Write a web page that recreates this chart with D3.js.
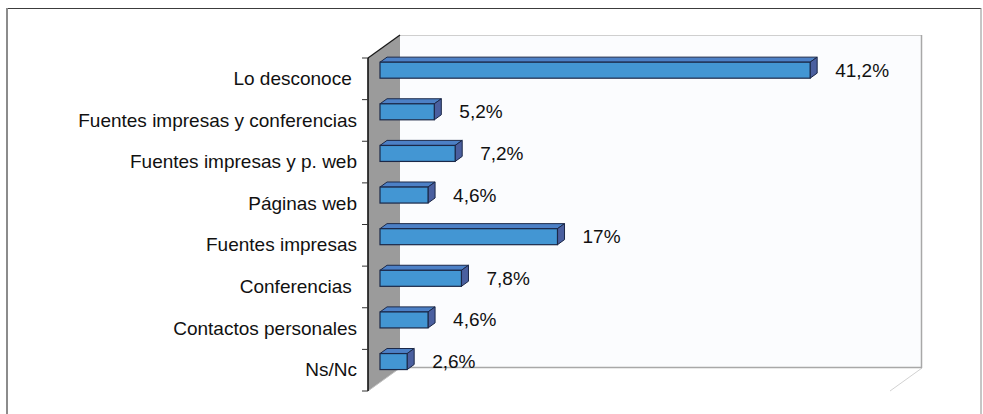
<!DOCTYPE html>
<html>
<head>
<meta charset="utf-8">
<script src="https://cdn.jsdelivr.net/npm/d3@7"></script>
<style>
  html, body { margin: 0; padding: 0; background: #ffffff; }
  svg { display: block; }
  text { font-family: "Liberation Sans", Arial, sans-serif; white-space: pre; }
</style>
</head>
<body>
<svg id="chart" width="983" height="414"></svg>
<script>
const categories = [
  "Lo desconoce ",
  "Fuentes impresas y conferencias",
  "Fuentes impresas y p. web",
  "Páginas web",
  "Fuentes impresas",
  "Conferencias ",
  "Contactos personales",
  "Ns/Nc"
];
const values = [41.2, 5.2, 7.2, 4.6, 17, 7.8, 4.6, 2.6];
const valueLabels = ["41,2%", "5,2%", "7,2%", "4,6%", "17%", "7,8%", "4,6%", "2,6%"];
const valueDomain = [0, 50];

const svg = d3.select("#chart");

// layout (front plane of the 3D box)
const plot = { left: 368, right: 890, top: 58, bottom: 391 };
const depth = { dx: 32, dy: -23 };          // full depth of the box
const barFront = 0.375, barBack = 0.595;     // bar position in depth (fraction)
const barH = 16;
const fontSize = "19px";

const x = d3.scaleLinear().domain(valueDomain).range([plot.left, plot.right]);
const y = d3.scaleBand().domain(categories).range([plot.top, plot.bottom]);

// outer frame
svg.append("line").attr("x1", 7).attr("x2", 981).attr("y1", 8.5).attr("y2", 8.5)
  .attr("stroke", "#3c3c3c").attr("stroke-width", 1.2);
svg.append("line").attr("x1", 7).attr("x2", 7).attr("y1", 8).attr("y2", 420)
  .attr("stroke", "#8c8c8c").attr("stroke-width", 2);
svg.append("line").attr("x1", 981).attr("x2", 981).attr("y1", 8).attr("y2", 420)
  .attr("stroke", "#8c8c8c").attr("stroke-width", 1);

const bx0 = plot.left + depth.dx, bx1 = plot.right + depth.dx;
const by0 = plot.top + depth.dy, by1 = plot.bottom + depth.dy;

// floor
svg.append("polygon")
  .attr("points", [[plot.left, plot.bottom], [bx0, by1], [bx1, by1], [plot.right, plot.bottom]].join(" "))
  .attr("fill", "#ffffff");
svg.append("line").attr("x1", bx1).attr("y1", by1).attr("x2", plot.right).attr("y2", plot.bottom)
  .attr("stroke", "#d2d2d2").attr("stroke-width", 1);

// back wall
svg.append("rect").attr("x", bx0).attr("y", by0).attr("width", bx1 - bx0).attr("height", by1 - by0)
  .attr("fill", "#fbfcfe");
svg.append("line").attr("x1", bx0).attr("x2", bx1).attr("y1", by0 + 0.5).attr("y2", by0 + 0.5)
  .attr("stroke", "#cfcfcf");
svg.append("line").attr("x1", bx1 - 0.5).attr("x2", bx1 - 0.5).attr("y1", by0).attr("y2", by1)
  .attr("stroke", "#a8a8a8").attr("stroke-width", 1.5);
svg.append("line").attr("x1", bx0).attr("x2", bx1).attr("y1", by1 - 0.5).attr("y2", by1 - 0.5)
  .attr("stroke", "#a8a8a8").attr("stroke-width", 1.5);

// side wall
svg.append("polygon")
  .attr("points", [[plot.left, plot.top], [bx0, by0], [bx0, by1], [plot.left, plot.bottom]].join(" "))
  .attr("fill", "#9b9b9b");
svg.append("line").attr("x1", plot.left).attr("y1", plot.bottom).attr("x2", bx0).attr("y2", by1)
  .attr("stroke", "#c0c0c0");
svg.append("line").attr("x1", plot.left).attr("y1", plot.top).attr("x2", bx0).attr("y2", by0)
  .attr("stroke", "#1a1a1a").attr("stroke-width", 1.3);
svg.append("line").attr("x1", plot.left).attr("y1", plot.top).attr("x2", plot.left).attr("y2", plot.bottom)
  .attr("stroke", "#111").attr("stroke-width", 1.6);

// tick marks at band boundaries
const boundaries = categories.map(c => y(c)).concat([y(categories[categories.length - 1]) + y.bandwidth()]);
svg.append("g").selectAll("line").data(boundaries).join("line")
  .attr("x1", plot.left - 6).attr("x2", plot.left).attr("y1", d => d).attr("y2", d => d)
  .attr("stroke", "#333").attr("stroke-width", 1);

// category labels via axis
const axis = svg.append("g").attr("transform", `translate(${plot.left},0)`)
  .call(d3.axisLeft(y).tickSize(0).tickPadding(11));
axis.select(".domain").remove();
axis.selectAll("text")
  .attr("font-size", fontSize)
  .attr("font-family", "'Liberation Sans', Arial, sans-serif")
  .attr("fill", "#111");

// bars
const dd = barBack - barFront;
const ox = barFront * depth.dx, oy = barFront * depth.dy;
const ddx = dd * depth.dx, ddy = dd * depth.dy;

const bars = svg.append("g").selectAll("g").data(categories).join("g");
bars.each(function (c, i) {
  const g = d3.select(this);
  const x0 = x(0) + ox, x1 = x(values[i]) + ox;
  const yt = y(c) + y.bandwidth() / 2 - barH / 2 + oy, yb = yt + barH;
  g.append("polygon")
    .attr("points", [[x0, yt], [x1, yt], [x1 + ddx, yt + ddy], [x0 + ddx, yt + ddy]].join(" "))
    .attr("fill", "#4c80c6").attr("stroke", "#1b2848").attr("stroke-width", 1).attr("stroke-linejoin", "round");
  g.append("polygon")
    .attr("points", [[x1, yt], [x1 + ddx, yt + ddy], [x1 + ddx, yb + ddy], [x1, yb]].join(" "))
    .attr("fill", "#4a5f9f").attr("stroke", "#1b2848").attr("stroke-width", 1).attr("stroke-linejoin", "round");
  g.append("rect")
    .attr("x", x0).attr("y", yt).attr("width", x1 - x0).attr("height", barH)
    .attr("fill", "#4396d3").attr("stroke", "#1b2848").attr("stroke-width", 1.2);
  g.append("text")
    .attr("x", x1 + ddx + 18).attr("y", yt + barH / 2)
    .attr("dominant-baseline", "central")
    .attr("font-size", fontSize).attr("fill", "#111")
    .text(valueLabels[i]);
});
</script>
</body>
</html>
